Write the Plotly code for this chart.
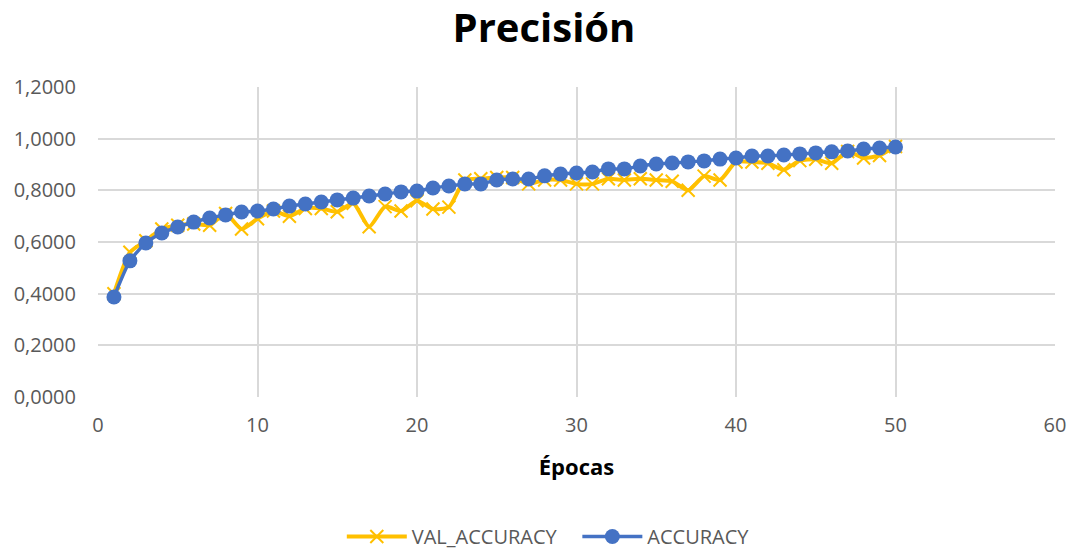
import plotly.graph_objects as go

epochs = list(range(1, 51))
accuracy = [0.387, 0.527, 0.596, 0.635, 0.658, 0.677, 0.693, 0.705, 0.716, 0.720,
            0.728, 0.739, 0.747, 0.755, 0.763, 0.770, 0.778, 0.786, 0.794, 0.797,
            0.809, 0.817, 0.825, 0.825, 0.840, 0.844, 0.844, 0.856, 0.863, 0.867,
            0.871, 0.883, 0.883, 0.894, 0.902, 0.906, 0.910, 0.914, 0.921, 0.925,
            0.933, 0.933, 0.937, 0.941, 0.945, 0.949, 0.952, 0.960, 0.964, 0.968]
val_accuracy = [0.400, 0.560, 0.605, 0.650, 0.665, 0.670, 0.665, 0.710, 0.650, 0.690,
                0.720, 0.700, 0.730, 0.730, 0.717, 0.750, 0.659, 0.737, 0.720, 0.760,
                0.728, 0.735, 0.840, 0.845, 0.850, 0.850, 0.825, 0.840, 0.840, 0.825,
                0.825, 0.845, 0.840, 0.845, 0.840, 0.835, 0.800, 0.855, 0.840, 0.910,
                0.910, 0.905, 0.880, 0.915, 0.920, 0.905, 0.950, 0.925, 0.935, 0.970]

fig = go.Figure()
fig.add_trace(go.Scatter(
    x=epochs, y=val_accuracy, name="VAL_ACCURACY\u00a0\u00a0\u00a0", mode="lines+markers",
    line=dict(color="#FFC000", width=4, shape="spline", smoothing=0.6),
    marker=dict(symbol="x-thin", size=13, line=dict(color="#FFC000", width=2), color="#FFC000"),
))
fig.add_trace(go.Scatter(
    x=epochs, y=accuracy, name="ACCURACY", mode="lines+markers",
    line=dict(color="#4472C4", width=3.5, shape="spline", smoothing=0.6),
    marker=dict(symbol="circle", size=15, color="#4472C4"),
))

fig.update_layout(
    width=1073, height=551,
    paper_bgcolor="white", plot_bgcolor="white",
    margin=dict(l=98, r=18, t=87, b=154, autoexpand=False),
    separators=",.",
    title=dict(text="<b>Precisión</b>", x=0.507, xanchor="center", y=0.95, yanchor="middle",
               font=dict(family="Open Sans, Liberation Sans, sans-serif", size=40, color="black")),
    font=dict(family="Open Sans, Liberation Sans, sans-serif", color="#595959", size=19),
    legend=dict(orientation="h", xref="container", x=0.511, xanchor="center", y=-0.45, yanchor="middle",
                font=dict(size=20, color="#595959"), itemwidth=60),
    showlegend=True,
)
fig.update_xaxes(range=[0, 60], dtick=10, tick0=0, showgrid=True, gridcolor="#D9D9D9", gridwidth=1.5,
                 zeroline=False, showline=False, ticks="", automargin=False, ticklabelstandoff=14,
                 tickfont=dict(size=20, color="#595959"),
                 title=dict(text="<b>Épocas</b>", font=dict(size=22, color="black"), standoff=22))
fig.update_yaxes(range=[0, 1.2], dtick=0.2, tick0=0, tickformat=".4f", showgrid=True,
                 gridcolor="#D9D9D9", gridwidth=1.5, zeroline=False, showline=False, ticks="",
                 automargin=False, ticklabelstandoff=21,
                 tickfont=dict(size=20, color="#595959"))

fig.write_html("out.html", config={"displayModeBar": False},
               post_script="document.body.style.margin='0';document.body.style.overflow='hidden';")
